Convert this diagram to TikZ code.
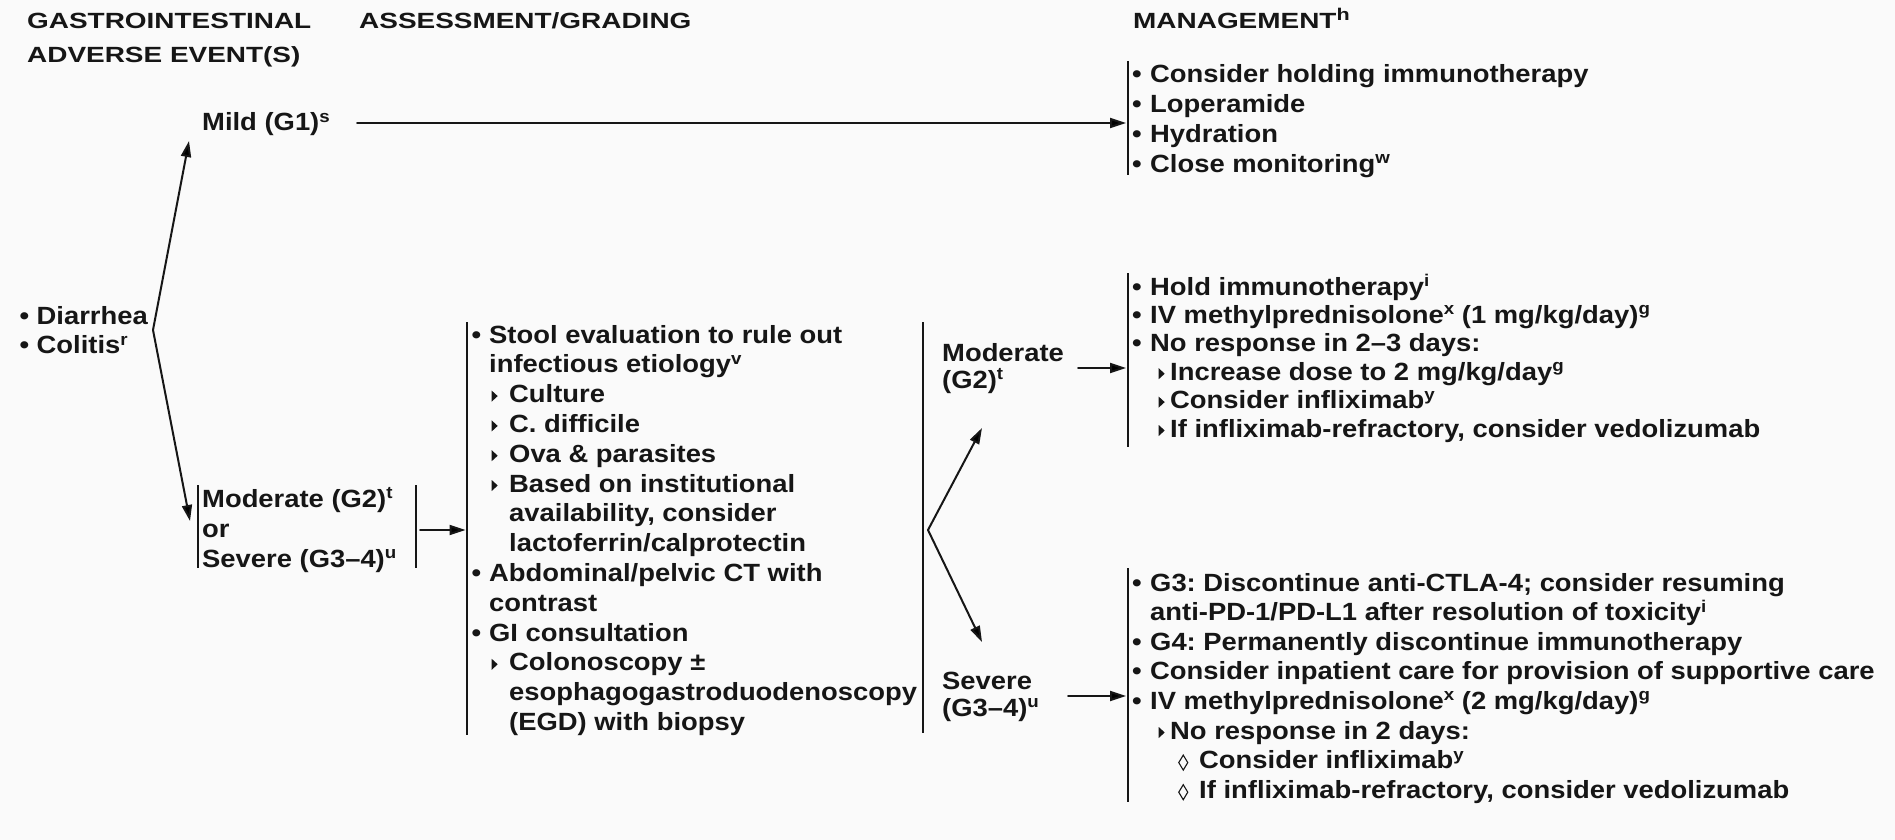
\documentclass[tikz,border=0pt]{standalone}
\usepackage{fontspec}
\setmainfont{Liberation Sans}[FakeStretch=1.1]
\newfontfamily\hdrfont{Liberation Sans}[FakeStretch=1.27]
\usetikzlibrary{arrows.meta}
\definecolor{ink}{RGB}{22,22,22}
\definecolor{bg}{RGB}{250,250,250}
\frenchspacing
\newcommand\tri{\tikz[baseline=0pt]\fill[ink] (0pt,1pt) -- (0pt,12pt) -- (6pt,6.5pt) -- cycle;}
\newcommand\dia{\tikz[baseline=0pt]\draw[ink,line width=1.1pt] (4.5pt,-1.5pt) -- (9pt,6pt) -- (4.5pt,13.5pt) -- (0pt,6pt) -- cycle;}
\newcommand\sups[1]{\raisebox{8.5pt}{\fontsize{17pt}{17pt}\selectfont #1}}
\newcommand\blk[2]{\vtop{\baselineskip=#1\lineskiplimit=-\maxdimen\lineskip=0pt #2}}
\newcommand\lne[1]{\hbox{#1}}
\newcommand\bul[1]{\makebox[#1][l]{•}}
% assessment
\newcommand\abul{\bul{17.5pt}}
\newcommand\aind{\hspace*{17.5pt}}
\newcommand\asub{\hspace*{20pt}\makebox[17.5pt][l]{\tri}}
\newcommand\asubind{\hspace*{37.5pt}}
% management
\newcommand\mbul{\bul{18pt}}
\newcommand\mind{\hspace*{18pt}}
\newcommand\msub{\hspace*{26.5pt}\makebox[11.5pt][l]{\tri}}
\newcommand\mdia{\hspace*{46pt}\makebox[21pt][l]{\dia}}
\tikzset{
  txt/.style={inner sep=0pt, anchor=base west, text=ink, font=\fontsize{24.9pt}{29.8pt}\selectfont\bfseries},
  hdr/.style={inner sep=0pt, anchor=base west, text=ink, font=\hdrfont\fontsize{22pt}{34pt}\selectfont\bfseries},
  bar/.style={draw=ink, line width=2pt},
  arr/.style={draw=ink, line width=2pt, line cap=round, -{Triangle[length=16pt,width=10pt]}},
}
\begin{document}
\begin{tikzpicture}[x=1pt,y=-1pt]
\fill[bg] (0,0) rectangle (1895,840);
\useasboundingbox (0,0) rectangle (1895,840);

% headers
\node[hdr] (h1) at (27,29) {\blk{34pt}{\lne{GASTROINTESTINAL}\lne{ADVERSE EVENT(S)}}};
\node[hdr] (h2) at (359,29) {ASSESSMENT/GRADING};
\node[hdr] (h3) at (1133,29) {MANAGEMENT\sups{h}};

% column 1
\node[txt] (ev) at (19.5,324) {\blk{29.5pt}{\lne{\bul{17pt}Diarrhea}\lne{\bul{17pt}Colitis\sups{r}}}};
\node[txt] (mild) at (202,131) {Mild (G1)\sups{s}};
\node[txt] (ms) at (202,507) {\blk{30pt}{\lne{Moderate (G2)\sups{t}}\lne{or}\lne{Severe (G3–4)\sups{u}}}};

% assessment
\node[txt] (assess) at (471.5,343) {\blk{29.8pt}{%
\lne{\abul Stool evaluation to rule out}%
\lne{\aind infectious etiology\sups{v}}%
\lne{\asub Culture}%
\lne{\asub C. difficile}%
\lne{\asub Ova \& parasites}%
\lne{\asub Based on institutional}%
\lne{\asubind availability, consider}%
\lne{\asubind lactoferrin/calprotectin}%
\lne{\abul Abdominal/pelvic CT with}%
\lne{\aind contrast}%
\lne{\abul GI consultation}%
\lne{\asub Colonoscopy ±}%
\lne{\asubind esophagogastroduodenoscopy}%
\lne{\asubind (EGD) with biopsy}}};

% grade labels
\node[txt] (mod) at (942,361) {\blk{27pt}{\lne{Moderate}\lne{(G2)\sups{t}}}};
\node[txt] (sev) at (942,689) {\blk{27pt}{\lne{Severe}\lne{(G3–4)\sups{u}}}};

% management
\node[txt] (mgmild) at (1132,83) {\blk{29.8pt}{%
\lne{\mbul Consider holding immunotherapy}%
\lne{\mbul Loperamide}%
\lne{\mbul Hydration}%
\lne{\mbul Close monitoring\sups{w}}}};
\node[txt] (mgmod) at (1132,295) {\blk{28.4pt}{%
\lne{\mbul Hold immunotherapy\sups{i}}%
\lne{\mbul IV methylprednisolone\sups{x} (1 mg/kg/day)\sups{g}}%
\lne{\mbul No response in 2–3 days:}%
\lne{\msub Increase dose to 2 mg/kg/day\sups{g}}%
\lne{\msub Consider infliximab\sups{y}}%
\lne{\msub If infliximab-refractory, consider vedolizumab}}};
\node[txt] (mgsev) at (1132,591) {\blk{29.6pt}{%
\lne{\mbul G3: Discontinue anti-CTLA-4; consider resuming}%
\lne{\mind anti-PD-1/PD-L1 after resolution of toxicity\sups{i}}%
\lne{\mbul G4: Permanently discontinue immunotherapy}%
\lne{\mbul Consider inpatient care for provision of supportive care}%
\lne{\mbul IV methylprednisolone\sups{x} (2 mg/kg/day)\sups{g}}%
\lne{\msub No response in 2 days:}%
\lne{\mdia Consider infliximab\sups{y}}%
\lne{\mdia If infliximab-refractory, consider vedolizumab}}};

% bars
\coordinate (msL1) at (198,485); \coordinate (msL2) at (198,568);
\coordinate (msR1) at (416,485); \coordinate (msR2) at (416,568);
\coordinate (asL1) at (467,322); \coordinate (asL2) at (467,735);
\coordinate (asR1) at (923,322); \coordinate (asR2) at (923,733);
\coordinate (bm1) at (1128,61);  \coordinate (bm2) at (1128,175);
\coordinate (bd1) at (1128,273); \coordinate (bd2) at (1128,447);
\coordinate (bs1) at (1128,568); \coordinate (bs2) at (1128,802);
\draw[bar] (msL1) -- (msL2);
\draw[bar] (msR1) -- (msR2);
\draw[bar] (asL1) -- (asL2);
\draw[bar] (asR1) -- (asR2);
\draw[bar] (bm1) -- (bm2);
\draw[bar] (bd1) -- (bd2);
\draw[bar] (bs1) -- (bs2);

% connectors
\coordinate (f1) at (153,330);
\coordinate (mildin) at (189,141);
\coordinate (msin) at (190,521);
\draw[arr] (f1) -- (mildin);
\draw[arr] (f1) -- (msin);
\coordinate (mildout) at (357,123);
\coordinate (mgmildin) at (1126,123);
\draw[arr] (mildout) -- (mgmildin);
\coordinate (msout) at (420,530);
\coordinate (asin) at (465.5,530);
\draw[arr] (msout) -- (asin);
\coordinate (f2) at (928,530);
\coordinate (modin) at (982,428);
\coordinate (sevin) at (982,642);
\draw[arr] (f2) -- (modin);
\draw[arr] (f2) -- (sevin);
\coordinate (modout) at (1078,368);
\coordinate (mgmodin) at (1126,368);
\draw[arr] (modout) -- (mgmodin);
\coordinate (sevout) at (1068,696);
\coordinate (mgsevin) at (1126,696);
\draw[arr] (sevout) -- (mgsevin);
\end{tikzpicture}
\end{document}
